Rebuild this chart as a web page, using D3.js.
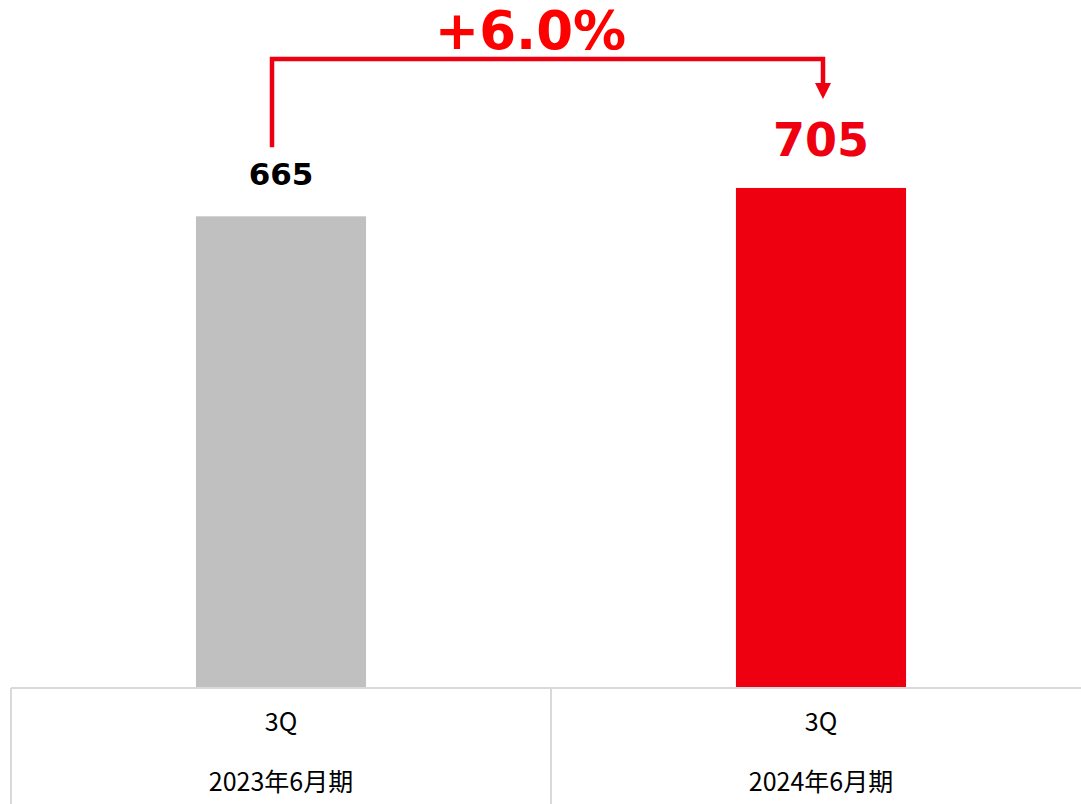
<!DOCTYPE html>
<html>
<head>
<meta charset="utf-8">
<script src="https://cdn.jsdelivr.net/npm/d3@7"></script>
<style>
  html, body { margin: 0; padding: 0; background: #fff; }
  svg { display: block; }
</style>
</head>
<body>
<svg id="chart" width="1081" height="804"></svg>
<script>
"use strict";

var quarters = ["3Q", "3Q"];
var periods = ["2023年6月期", "2024年6月期"];
var values = [665, 705];
var barColors = ["#C0C0C0", "#EE0011"];
var labelColors = ["#000000", "#EE0011"];
var changeLabel = "+6.0%";

var RED = "#EE0011";
var GRID = "#D9D9D9";
var BASE_Y = 688;

var svg = d3.select("#chart");

var x = d3.scaleBand()
  .domain(d3.range(values.length))
  .range([11, 1091])
  .padding(0);

var y = d3.scaleLinear()
  .domain([0, 970])
  .range([BASE_Y, 0]);

var barWidth = x.bandwidth() * 0.315;
function center(i) { return x(i) + x.bandwidth() / 2; }

// bars
svg.append("g")
  .selectAll("rect")
  .data(values)
  .enter()
  .append("rect")
  .attr("x", function (d, i) { return center(i) - barWidth / 2; })
  .attr("y", function (d) { return y(d); })
  .attr("width", barWidth)
  .attr("height", function (d) { return BASE_Y - y(d); })
  .attr("fill", function (d, i) { return barColors[i]; });

// value labels
var labelSizes = [31, 46];
var labelGaps = [31, 32];
svg.append("g")
  .selectAll("text")
  .data(values)
  .enter()
  .append("text")
  .attr("x", function (d, i) { return center(i); })
  .attr("y", function (d, i) { return y(d) - labelGaps[i]; })
  .attr("text-anchor", "middle")
  .attr("font-family", "DejaVu Sans, sans-serif")
  .attr("font-weight", "bold")
  .attr("font-size", function (d, i) { return labelSizes[i]; })
  .attr("fill", function (d, i) { return labelColors[i]; })
  .text(function (d) { return d; });

// table under the bars
var table = svg.append("g").attr("stroke", GRID).attr("stroke-width", 2);
table.append("line")
  .attr("x1", x.range()[0]).attr("x2", 1081)
  .attr("y1", BASE_Y).attr("y2", BASE_Y);
d3.range(values.length).forEach(function (i) {
  table.append("line")
    .attr("x1", x(i)).attr("x2", x(i))
    .attr("y1", BASE_Y).attr("y2", 804);
});

var cats = svg.append("g")
  .attr("font-family", "Noto Sans CJK JP, sans-serif")
  .attr("font-size", 25)
  .attr("fill", "#000")
  .attr("text-anchor", "middle");
cats.selectAll("text.q")
  .data(quarters)
  .enter()
  .append("text")
  .attr("class", "q")
  .attr("x", function (d, i) { return center(i); })
  .attr("y", 731)
  .text(function (d) { return d; });
cats.selectAll("text.p")
  .data(periods)
  .enter()
  .append("text")
  .attr("class", "p")
  .attr("x", function (d, i) { return center(i); })
  .attr("y", 791)
  .text(function (d) { return d; });

// growth bracket
var leftX = center(0) - 9;
var rightX = center(1) + 2;
var topY = 59;
var bracket = svg.append("g");
bracket.append("path")
  .attr("d", "M" + leftX + "," + (y(values[0]) - 69) +
    "V" + topY + "H" + rightX + "V" + (y(values[1]) - 104))
  .attr("fill", "none")
  .attr("stroke", RED)
  .attr("stroke-width", 4.5);
var tipY = y(values[1]) - 89;
bracket.append("path")
  .attr("d", "M" + (rightX - 8) + "," + (tipY - 16) + "L" + (rightX + 8) + "," + (tipY - 16) +
    "L" + rightX + "," + tipY + "Z")
  .attr("fill", RED);

svg.append("text")
  .attr("x", (leftX + rightX) / 2 - 17)
  .attr("y", 49)
  .attr("text-anchor", "middle")
  .attr("font-family", "DejaVu Sans, sans-serif")
  .attr("font-weight", "bold")
  .attr("font-size", 53)
  .attr("fill", "#FF0000")
  .text(changeLabel);
</script>
</body>
</html>
